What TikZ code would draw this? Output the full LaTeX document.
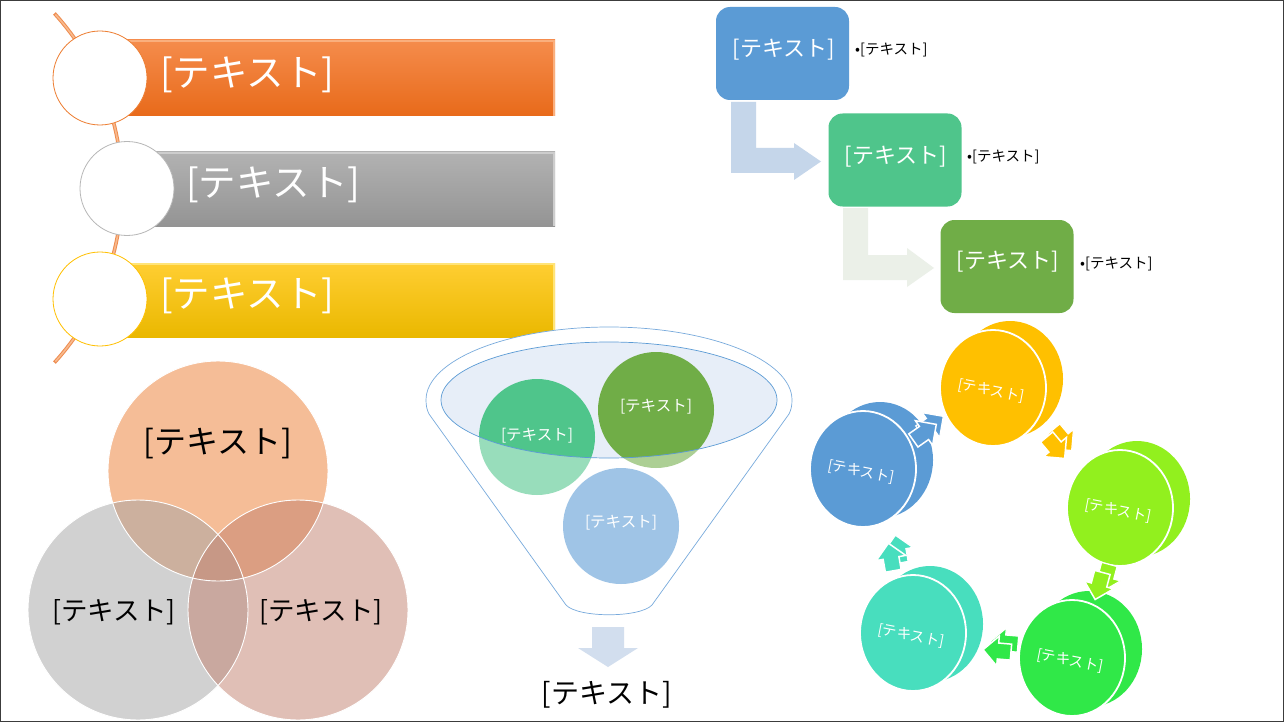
\documentclass[tikz,border=0pt]{standalone}
\usepackage{fontspec}
\setmainfont{Noto Sans CJK JP}
\usetikzlibrary{calc}
\definecolor{orA}{RGB}{237,125,49}
\definecolor{grA}{RGB}{165,165,165}
\definecolor{rdA}{RGB}{195,129,111}
\definecolor{blA}{RGB}{91,155,213}
\definecolor{gnA}{RGB}{79,197,139}
\definecolor{olA}{RGB}{112,173,71}
\definecolor{ylA}{RGB}{255,192,0}
\definecolor{liA}{RGB}{146,240,30}
\definecolor{lgA}{RGB}{48,232,72}
\definecolor{tqA}{RGB}{72,222,190}
\definecolor{arA}{RGB}{197,214,234}
\definecolor{arB}{RGB}{235,240,232}
\definecolor{arC}{RGB}{210,222,238}
\definecolor{elA}{RGB}{231,238,248}
\definecolor{fuA}{RGB}{120,170,220}
\tikzset{
  ringbox/.style={circle, minimum size=94pt, inner sep=0pt, fill=white, line width=0.8pt},
  bartext/.style={font=\fontsize{37.5}{42}\selectfont, text=white, anchor=west, inner sep=0pt},
  procbox/.style={rounded corners=14pt, minimum width=133pt, minimum height=93pt, inner sep=0pt, text=white, font=\fontsize{22}{26}\selectfont},
  proctext/.style={text=white, font=\fontsize{22}{26}\selectfont, inner sep=0pt},
  bullettext/.style={font=\fontsize{14.5}{17}\selectfont, anchor=west, inner sep=0pt},
  funcirc/.style={circle, minimum size=116pt, inner sep=0pt},
  funtext/.style={text=white, font=\fontsize{15.5}{18}\selectfont, inner sep=0pt},
  venncirc/.style={circle, minimum size=220pt, inner sep=0pt, fill opacity=0.5},
  venntext/.style={font=\fontsize{26.5}{30}\selectfont, inner sep=0pt},
  disctext/.style={text=white, font=\fontsize{14.5}{17}\selectfont, inner sep=0pt, rotate=-11},
}
\newcommand\mydisc[4]{%
  \fill[#3] ($(#1,#2)+(17,-9)$) ellipse [x radius=53, y radius=58];
  \filldraw[fill=#3, draw=white, line width=1.8pt] (#1,#2) ellipse [x radius=53, y radius=58];
  \node[disctext] (#4) at ($(#1,#2)+(-2,3)$) {[テキスト]};
}
\newcommand\myarrowshape{(-13,-8) -- (0,-8) -- (0,-15) -- (15,0) -- (0,15) -- (0,8) -- (-13,8) -- cycle}
\newcommand\cyarrow[4]{%
  \begin{scope}[shift={($(#1,#2)+(7,-8)$)}, rotate=#3]
    \filldraw[fill=#4, draw=white, line width=1.2pt] \myarrowshape;
  \end{scope}
  \begin{scope}[shift={(#1,#2)}, rotate=#3]
    \filldraw[fill=#4, draw=white, line width=1.5pt] \myarrowshape;
  \end{scope}
}
\begin{document}
\begin{tikzpicture}[x=1pt, y=-1pt]
\useasboundingbox (0,0) rectangle (1284,722);
\fill[white] (0,0) rectangle (1284,722);
\draw[line width=1pt, color={rgb,255:red,60;green,60;blue,60}] (0.5,0.5) rectangle (1283.5,721.5);

% ---------- vertical list with arc ----------
\draw[line width=3.6pt, color={rgb,255:red,238;green,140;blue,80}] plot[domain=-42.3:42.3, samples=60] ({-137.4+259.4*cos(\x)},{188+259.4*sin(\x)});
\draw[line width=1.6pt, color={rgb,255:red,248;green,185;blue,140}] plot[domain=-42:42, samples=60] ({-137.4+259.4*cos(\x)},{188+259.4*sin(\x)});

\shade[top color={rgb,255:red,245;green,140;blue,76}, bottom color={rgb,255:red,232;green,106;blue,26}] (100,40) rectangle (555,116);
\draw[line width=2pt, color={rgb,255:red,250;green,175;blue,125}] (100,41) -- (554,41) -- (554,116);
\shade[top color={rgb,255:red,178;green,178;blue,178}, bottom color={rgb,255:red,148;green,148;blue,148}] (126,152) rectangle (555,226);
\draw[line width=2pt, color={rgb,255:red,205;green,205;blue,205}] (126,153) -- (554,153) -- (554,226);
\shade[top color={rgb,255:red,255;green,206;blue,50}, bottom color={rgb,255:red,234;green,184;blue,0}] (100,263) rectangle (555,337);
\draw[line width=2pt, color={rgb,255:red,255;green,228;blue,120}] (100,264) -- (554,264) -- (554,337);

\node[ringbox, draw=orA] (r1) at (100,78) {};
\node[ringbox, draw=grA!80] (r2) at (127,188.5) {};
\node[ringbox, draw=ylA] (r3) at (100,299) {};
\node[bartext] (t1) at (160,75) {[テキスト]};
\node[bartext] (t2) at (186,185) {[テキスト]};
\node[bartext] (t3) at (160,296) {[テキスト]};

% ---------- process ----------
\fill[arA] (731,102) -- (756,102) -- (756,148) -- (794,148) -- (794,143) -- (821,161.5) -- (794,180) -- (794,173) -- (731,173) -- cycle;
\fill[arB] (843,208) -- (868,208) -- (868,255) -- (907,255) -- (907,248) -- (934,268) -- (907,287) -- (907,280) -- (843,280) -- cycle;
\node[procbox, fill=blA] (p1) at (782.5,53.5) {};
\node[procbox, fill=gnA] (p2) at (895,160) {};
\node[procbox, fill=olA] (p3) at (1007,266.5) {};
\node[proctext] (p1t) at (784,50) {[テキスト]};
\node[proctext] (p2t) at (896,157) {[テキスト]};
\node[proctext] (p3t) at (1008,262) {[テキスト]};
\node[bullettext] (b1) at (855,50) {•[テキスト]};
\node[bullettext] (b2) at (967,157) {•[テキスト]};
\node[bullettext] (b3) at (1080,264) {•[テキスト]};

% ---------- funnel ----------
\newcommand\funnelpath{(426,400) .. controls (426,360) and (508,327) .. (609,327) .. controls (710,327) and (792,360) .. (792,400) .. controls (792,406) and (791,410) .. (789,414) -- (652,605) .. controls (640,618) and (578,618) .. (566,605) -- (429,414) .. controls (427,410) and (426,406) .. (426,400) -- cycle}
\fill[white] \funnelpath;
\fill[elA] (609,400) ellipse [x radius=168, y radius=58];
\node[funcirc, fill=gnA] (f1) at (537,437) {};
\node[funcirc, fill=olA] (f2) at (656,410) {};
\node[funcirc, fill=blA] (f3) at (621,526) {};
\fill[white, fill opacity=0.42, even odd rule] \funnelpath (609,400) ellipse [x radius=168, y radius=58];
\draw[blA, line width=0.7pt] (609,400) ellipse [x radius=168, y radius=58];
\draw[fuA, line width=0.7pt] \funnelpath;
\node[funtext] (f1t) at (537,436) {[テキスト]};
\node[funtext] (f2t) at (656,407) {[テキスト]};
\node[funtext] (f3t) at (621,523) {[テキスト]};
\fill[arC] (592,627) -- (624,627) -- (624,648) -- (638,648) -- (608,667) -- (578,648) -- (592,648) -- cycle;
\node[font=\fontsize{28}{32}\selectfont, inner sep=0pt] (fout) at (607,695) {[テキスト]};

% ---------- venn ----------
\node[venncirc, fill=orA] (v1) at (218,471) {};
\node[venncirc, fill=grA] (v2) at (138,610) {};
\node[venncirc, fill=rdA] (v3) at (298,610) {};
\draw[white, line width=0.9pt] (218,471) circle (110);
\draw[white, line width=0.9pt] (138,610) circle (110);
\draw[white, line width=0.9pt] (298,610) circle (110);
\node[venntext, font=\fontsize{32}{36}\selectfont] (v1t) at (218,444) {[テキスト]};
\node[venntext] (v2t) at (114,612) {[テキスト]};
\node[venntext] (v3t) at (321,612) {[テキスト]};

% ---------- cycle ----------
\mydisc{993}{388}{ylA}{c1}
\mydisc{1120}{508}{liA}{c2}
\mydisc{1072}{658}{lgA}{c3}
\mydisc{913}{633}{tqA}{c4}
\mydisc{863}{469}{blA}{c5}
\cyarrow{924}{433}{35}{blA}
\cyarrow{1055}{447}{-50}{ylA}
\cyarrow{1099}{585}{-105}{liA}
\cyarrow{998}{651}{175}{lgA}
\cyarrow{891}{558}{100}{tqA}
\end{tikzpicture}
\end{document}
